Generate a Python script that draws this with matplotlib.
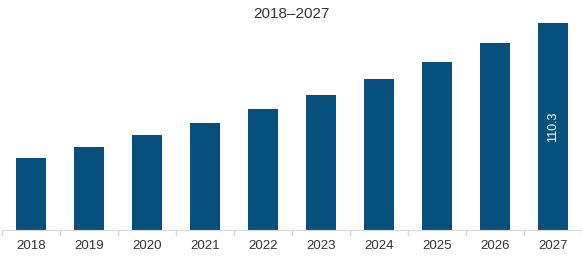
import matplotlib
matplotlib.use("Agg")
import matplotlib.pyplot as plt

years = ["2018", "2019", "2020", "2021", "2022", "2023", "2024", "2025", "2026", "2027"]
values = [38.5, 44.2, 50.5, 56.9, 64.2, 71.8, 80.5, 89.2, 99.3, 110.3]
labels = ["", "", "", "", "", "", "", "", "", "110.3"]
title = "2018\u20132027"

plt.rcParams["font.family"] = ["Liberation Sans", "DejaVu Sans"]

fig = plt.figure(figsize=(5.82, 2.57), dpi=100)
ax = fig.add_axes([2 / 582, 27 / 257, 580 / 582, 210 / 257])

x = list(range(len(years)))
bars = ax.bar(x, values, width=0.51, color="#07507d", edgecolor="none")
ax.bar_label(bars, labels=labels, label_type="center", rotation=90,
             color="white", fontsize=9)

ax.set_xlim(-0.5, 9.43)
ax.set_ylim(0, 111.7)
ax.set_yticks([])
ax.set_xticks(x)
ax.set_xticklabels(years, fontsize=9.5, color="#333333")
ax.set_xticks([i - 0.5 for i in range(len(years) + 1)], minor=True)
ax.tick_params(axis="x", which="major", length=0, pad=7)
ax.tick_params(axis="x", which="minor", length=4, color="#d9d9d9", width=1)
for side in ("top", "right", "left"):
    ax.spines[side].set_visible(False)
ax.spines["bottom"].set_color("#d9d9d9")

fig.text(0.5, 1 - 14 / 257, title, ha="center", va="center",
         fontsize=11, color="#333333")

fig.savefig("out.png", dpi=100, facecolor="white")
